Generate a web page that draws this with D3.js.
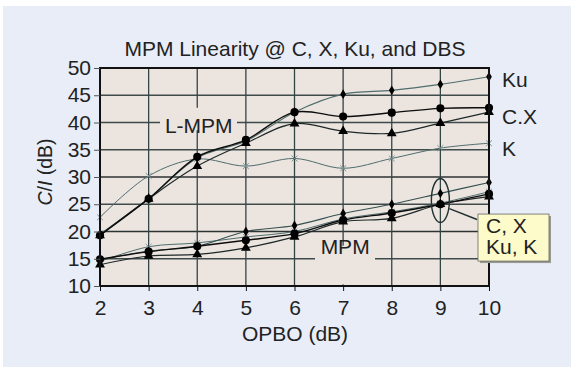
<!DOCTYPE html>
<html>
<head>
<meta charset="utf-8">
<script src="https://cdn.jsdelivr.net/npm/d3@7"></script>
<style>
  body { margin: 0; background: #fff; }
  svg { display: block; font-family: "Liberation Sans", Arial, sans-serif; }
</style>
</head>
<body>
<div id="chart-container"></div>
<script>
// OPBO (dB) on the x axis
const opbo = [2, 3, 4, 5, 6, 7, 8, 9, 10];
const xTicks = [2, 3, 4, 5, 6, 7, 8, 9, 10];
const yTicks = [10, 15, 20, 25, 30, 35, 40, 45, 50];

// L-MPM curves
const lmpmKu = [19.5, 26.0, 33.5, 36.6, 41.9, 45.2, 45.9, 47.0, 48.4];
const lmpmC  = [19.3, 26.0, 33.7, 36.8, 41.9, 41.1, 41.8, 42.6, 42.7];
const lmpmX  = [19.3, 26.0, 32.0, 36.2, 39.8, 38.4, 38.0, 39.9, 41.9];
const lmpmK  = [22.6, 30.2, 33.3, 32.0, 33.4, 31.6, 33.4, 35.3, 36.2];

// MPM curves
const mpmKu = [14.8, 16.4, 17.3, 20.0, 21.1, 23.3, 25.0, 27.0, 29.0];
const mpmK  = [14.5, 17.2, 17.9, 19.0, 20.0, 22.3, 23.6, 25.2, 27.3];
const mpmC  = [14.9, 16.3, 17.3, 18.4, 19.6, 22.1, 23.4, 25.0, 26.9];
const mpmX  = [13.9, 15.5, 15.8, 17.0, 19.0, 21.8, 22.4, 25.0, 26.4];

const FS = 21;

const drawChart = () => {
  const W = 574, H = 370;
  const margin = { top: 68, right: 85, bottom: 84, left: 100 },
        width = W - margin.left - margin.right,
        height = H - margin.top - margin.bottom;

  const root = d3.select('#chart-container')
    .append('svg')
    .attr('width', W)
    .attr('height', H);

  // light blue panel
  root.append('rect')
    .attr('x', 3).attr('y', 6)
    .attr('width', 568).attr('height', 361)
    .attr('fill', '#e8edf7');

  root.append('text')
    .attr('x', 295).attr('y', 56)
    .attr('text-anchor', 'middle')
    .attr('font-size', FS)
    .attr('fill', '#222')
    .text('MPM Linearity @ C, X, Ku, and DBS');

  const svg = root.append('g')
    .attr('transform', `translate(${margin.left},${margin.top})`);

  const x = d3.scaleLinear().domain([2, 10]).range([0, width]);
  const y = d3.scaleLinear().domain([10, 50]).range([height, 0]);

  svg.append('rect')
    .attr('width', width).attr('height', height)
    .attr('fill', '#ebe4df');

  // grid
  svg.append('g').selectAll('line')
    .data(yTicks)
    .enter().append('line')
    .attr('x1', 0).attr('x2', width)
    .attr('y1', d => y(d)).attr('y2', d => y(d))
    .attr('stroke', d => (d === 30 || d === 20) ? '#2c3333' : '#3f4a4a')
    .attr('stroke-width', d => (d === 30 || d === 20) ? 1.7 : 1.3);

  svg.append('g').selectAll('line')
    .data(xTicks)
    .enter().append('line')
    .attr('y1', 0).attr('y2', height)
    .attr('x1', d => x(d)).attr('x2', d => x(d))
    .attr('stroke', '#334445')
    .attr('stroke-width', 1.3);

  // masks behind the group labels
  svg.append('rect')
    .attr('x', 60).attr('y', y(42.7))
    .attr('width', 77).attr('height', y(38.6) - y(42.7))
    .attr('fill', '#ebe4df');
  svg.append('rect')
    .attr('x', 215).attr('y', y(17.4))
    .attr('width', 60).attr('height', y(10.3) - y(17.4))
    .attr('fill', '#ebe4df');

  svg.append('text')
    .attr('x', x(4) + 1.5).attr('y', y(40) + 10.5)
    .attr('text-anchor', 'middle')
    .attr('font-size', FS).attr('fill', '#222')
    .text('L-MPM');
  svg.append('text')
    .attr('x', x(7) + 2).attr('y', y(17.8) + 10.5)
    .attr('text-anchor', 'middle')
    .attr('font-size', FS).attr('fill', '#222')
    .text('MPM');

  const series = [
    { vals: lmpmK,  color: '#4f6d6e', w: 1,   mark: 'x' },
    { vals: lmpmKu, color: '#4f6d6e', w: 1.1, mark: 'diamond' },
    { vals: lmpmX,  color: '#1e2828', w: 1.2, mark: 'triangle' },
    { vals: lmpmC,  color: '#0d0d0d', w: 1.4, mark: 'circle' },
    { vals: mpmK,   color: '#4f6d6e', w: 1,   mark: 'x' },
    { vals: mpmKu,  color: '#355050', w: 1.1, mark: 'diamond' },
    { vals: mpmX,   color: '#1e2828', w: 1.2, mark: 'triangle' },
    { vals: mpmC,   color: '#0d0d0d', w: 1.4, mark: 'circle' }
  ];

  const line = d3.line()
    .x((d, i) => x(opbo[i]))
    .y(d => y(d))
    .curve(d3.curveCatmullRom.alpha(0.5));

  series.forEach(s => {
    svg.append('path')
      .datum(s.vals)
      .attr('d', line)
      .attr('fill', 'none')
      .attr('stroke', s.color)
      .attr('stroke-width', s.w);
  });

  const symbols = {
    circle: d3.symbol().type(d3.symbolCircle).size(52),
    triangle: d3.symbol().type(d3.symbolTriangle).size(42),
    diamond: d3.symbol().type(d3.symbolDiamond).size(28),
    x: d3.symbol().type(d3.symbolX).size(24)
  };

  series.forEach(s => {
    svg.append('g').selectAll('path')
      .data(s.vals)
      .enter().append('path')
      .attr('transform', (d, i) => `translate(${x(opbo[i])},${y(d)})`)
      .attr('d', symbols[s.mark])
      .attr('fill', s.mark === 'x' ? 'none' : '#000')
      .attr('stroke', s.mark === 'x' ? '#7d9596' : 'none')
      .attr('stroke-width', 1);
  });

  // frame
  svg.append('rect')
    .attr('width', width).attr('height', height)
    .attr('fill', 'none')
    .attr('stroke', '#111')
    .attr('stroke-width', 2);

  // axes
  const yAxis = svg.append('g')
    .call(d3.axisLeft(y).tickValues(yTicks).tickSize(6).tickPadding(3));
  yAxis.select('.domain').remove();
  yAxis.selectAll('text').attr('font-size', FS).attr('fill', '#222')
    .attr('font-family', '"Liberation Sans", Arial, sans-serif');
  yAxis.selectAll('line').attr('stroke', '#555');

  const xAxis = svg.append('g')
    .attr('transform', `translate(0,${height})`)
    .call(d3.axisBottom(x).tickValues(xTicks).tickSize(5).tickPadding(9));
  xAxis.select('.domain').remove();
  xAxis.selectAll('text').attr('font-size', FS).attr('fill', '#222')
    .attr('font-family', '"Liberation Sans", Arial, sans-serif');
  xAxis.selectAll('line').attr('stroke', '#111');

  root.append('text')
    .attr('x', 295).attr('y', 341)
    .attr('text-anchor', 'middle')
    .attr('font-size', FS).attr('fill', '#222')
    .text('OPBO (dB)');

  const yl = root.append('text')
    .attr('transform', `translate(52,172) rotate(-90)`)
    .attr('text-anchor', 'middle')
    .attr('font-size', 19.5).attr('fill', '#222');
  yl.append('tspan').attr('font-style', 'italic').text('C');
  yl.append('tspan').text('/');
  yl.append('tspan').attr('font-style', 'italic').text('I');
  yl.append('tspan').text(' (dB)');

  // right side labels
  const rightLabels = [['Ku', 47.9], ['C.X', 41.1], ['K', 35.2]];
  svg.selectAll('.rl')
    .data(rightLabels)
    .enter().append('text')
    .attr('x', width + 13)
    .attr('y', d => y(d[1]) + 7.5)
    .attr('font-size', FS).attr('fill', '#222')
    .text(d => d[0]);

  // ellipse and callout
  svg.append('ellipse')
    .attr('cx', x(9)).attr('cy', y(25.7))
    .attr('rx', 9).attr('ry', 22)
    .attr('fill', 'none')
    .attr('stroke', '#223030')
    .attr('stroke-width', 1.4);
  svg.append('line')
    .attr('x1', x(9) + 9).attr('y1', y(24.2))
    .attr('x2', width - 12).attr('y2', y(22.2))
    .attr('stroke', '#223030').attr('stroke-width', 1.4);

  const bx = width - 11, by = y(23.2), bw = 71, bh = 47;
  root.append('rect')
    .attr('x', margin.left + bx + 2).attr('y', margin.top + by + 2)
    .attr('width', bw).attr('height', bh)
    .attr('fill', '#9a9a94');
  root.append('rect')
    .attr('x', margin.left + bx).attr('y', margin.top + by)
    .attr('width', bw).attr('height', bh)
    .attr('fill', '#fdfbc9')
    .attr('stroke', '#666').attr('stroke-width', 0.8);
  root.append('text')
    .attr('x', margin.left + bx + 8).attr('y', margin.top + by + 19)
    .attr('font-size', FS).attr('fill', '#222')
    .text('C, X');
  root.append('text')
    .attr('x', margin.left + bx + 8).attr('y', margin.top + by + 40)
    .attr('font-size', FS).attr('fill', '#222')
    .text('Ku, K');
};

drawChart();
</script>
</body>
</html>
